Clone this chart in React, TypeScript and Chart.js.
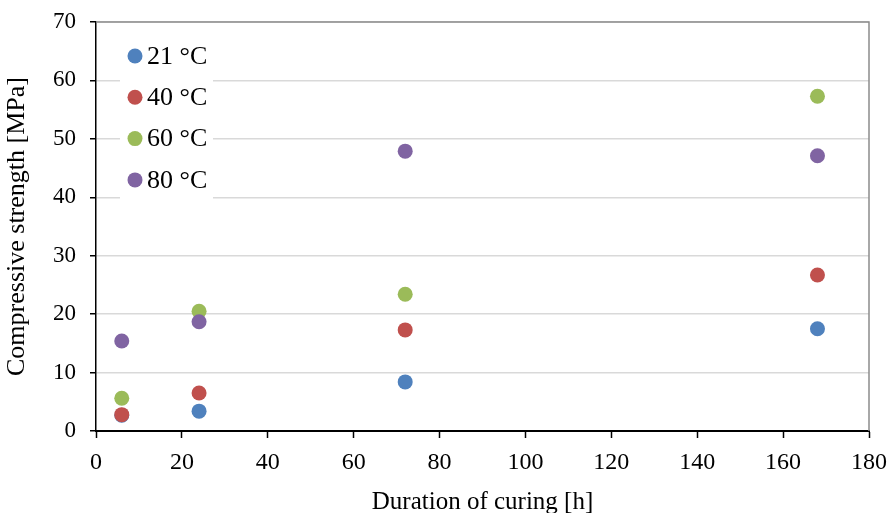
import React, { useEffect, useRef } from "react";
import { Chart, registerables } from "chart.js";

Chart.register(...registerables);

const seriesNames = ["21 °C", "40 °C", "60 °C", "80 °C"];
const seriesColors = ["#4F81BD", "#C0504D", "#9BBB59", "#8064A2"];
const durations = [6, 24, 72, 168];
const s21 = [2.7, 3.4, 8.4, 17.5];
const s40 = [2.8, 6.5, 17.3, 26.7];
const s60 = [5.6, 20.5, 23.4, 57.3];
const s80 = [15.4, 18.7, 47.9, 47.1];
const xTitle = "Duration of curing [h]";
const yTitle = "Compressive strength [MPa]";

const FONT = '"Liberation Serif", "Times New Roman", serif';

const frameAndLegend = {
  id: "frameAndLegend",
  beforeDatasetsDraw(chart: any) {
    const { ctx, chartArea } = chart;
    ctx.save();
    ctx.strokeStyle = "#8c8c8c";
    ctx.lineWidth = 1.5;
    ctx.beginPath();
    ctx.moveTo(chartArea.left, chartArea.top);
    ctx.lineTo(chartArea.right, chartArea.top);
    ctx.lineTo(chartArea.right, chartArea.bottom);
    ctx.stroke();
    // legend
    const x0 = chartArea.left + 24;
    const y0 = chartArea.top + 16;
    ctx.fillStyle = "#ffffff";
    ctx.fillRect(x0, y0, 93, 163);
    ctx.font = "26px " + FONT;
    ctx.textBaseline = "middle";
    ctx.textAlign = "left";
    seriesNames.forEach((name, i) => {
      const cy = y0 + 18 + i * 41.3;
      ctx.fillStyle = seriesColors[i];
      ctx.beginPath();
      ctx.arc(x0 + 15, cy, 7.5, 0, Math.PI * 2);
      ctx.fill();
      ctx.fillStyle = "#000";
      ctx.fillText(name, x0 + 27, cy + 1);
    });
    ctx.restore();
  },
};

export default function App() {
  const ref = useRef<HTMLCanvasElement>(null);
  useEffect(() => {
    const all = [s21, s40, s60, s80];
    const chart = new Chart(ref.current!, {
      type: "scatter",
      data: {
        datasets: all.map((vals, i) => ({
          label: seriesNames[i],
          data: durations.map((d, j) => ({ x: d, y: vals[j] })),
          backgroundColor: seriesColors[i],
          borderColor: seriesColors[i],
          pointRadius: 7.5,
          pointBorderWidth: 0,
          order: 4 - i,
        })),
      },
      options: {
        animation: false,
        responsive: false,
        devicePixelRatio: 1,
        layout: { padding: { left: 0, top: 22, right: 21, bottom: 0 } },
        plugins: { legend: { display: false }, tooltip: { enabled: false } },
        scales: {
          x: {
            type: "linear",
            min: 0,
            max: 180,
            ticks: { stepSize: 20, color: "#000", font: { family: FONT, size: 24 }, padding: 10 },
            grid: { drawOnChartArea: false, drawTicks: true, tickLength: 7, tickColor: "#000", tickWidth: 1.5 },
            border: { color: "#000", width: 2 },
            title: { display: true, text: xTitle, color: "#000", font: { family: FONT, size: 25 }, padding: { top: 0, bottom: -4 } },
            afterFit: (s: any) => { s.height = 82; s.paddingLeft = 0; s.paddingRight = 0; },
          },
          y: {
            min: 0,
            max: 70,
            ticks: { stepSize: 10, color: "#000", font: { family: FONT, size: 23 }, padding: 14 },
            grid: { color: "#d9d9d9", lineWidth: 1.5, tickLength: 6, tickColor: "#000", tickWidth: 1.5 },
            border: { color: "#000", width: 1.5 },
            title: { display: true, text: yTitle, color: "#000", font: { family: FONT, size: 26 }, padding: { top: 2, bottom: 4 } },
            afterFit: (s: any) => { s.width = 96; s.paddingTop = 0; s.paddingBottom = 0; },
          },
        },
      },
      plugins: [frameAndLegend],
    } as any);
    return () => chart.destroy();
  }, []);
  return (
    <div style={{ position: "fixed", left: 0, top: 0, width: 890, height: 513, background: "#fff" }}>
      <canvas ref={ref} width={890} height={513} style={{ display: "block" }} />
    </div>
  );
}
